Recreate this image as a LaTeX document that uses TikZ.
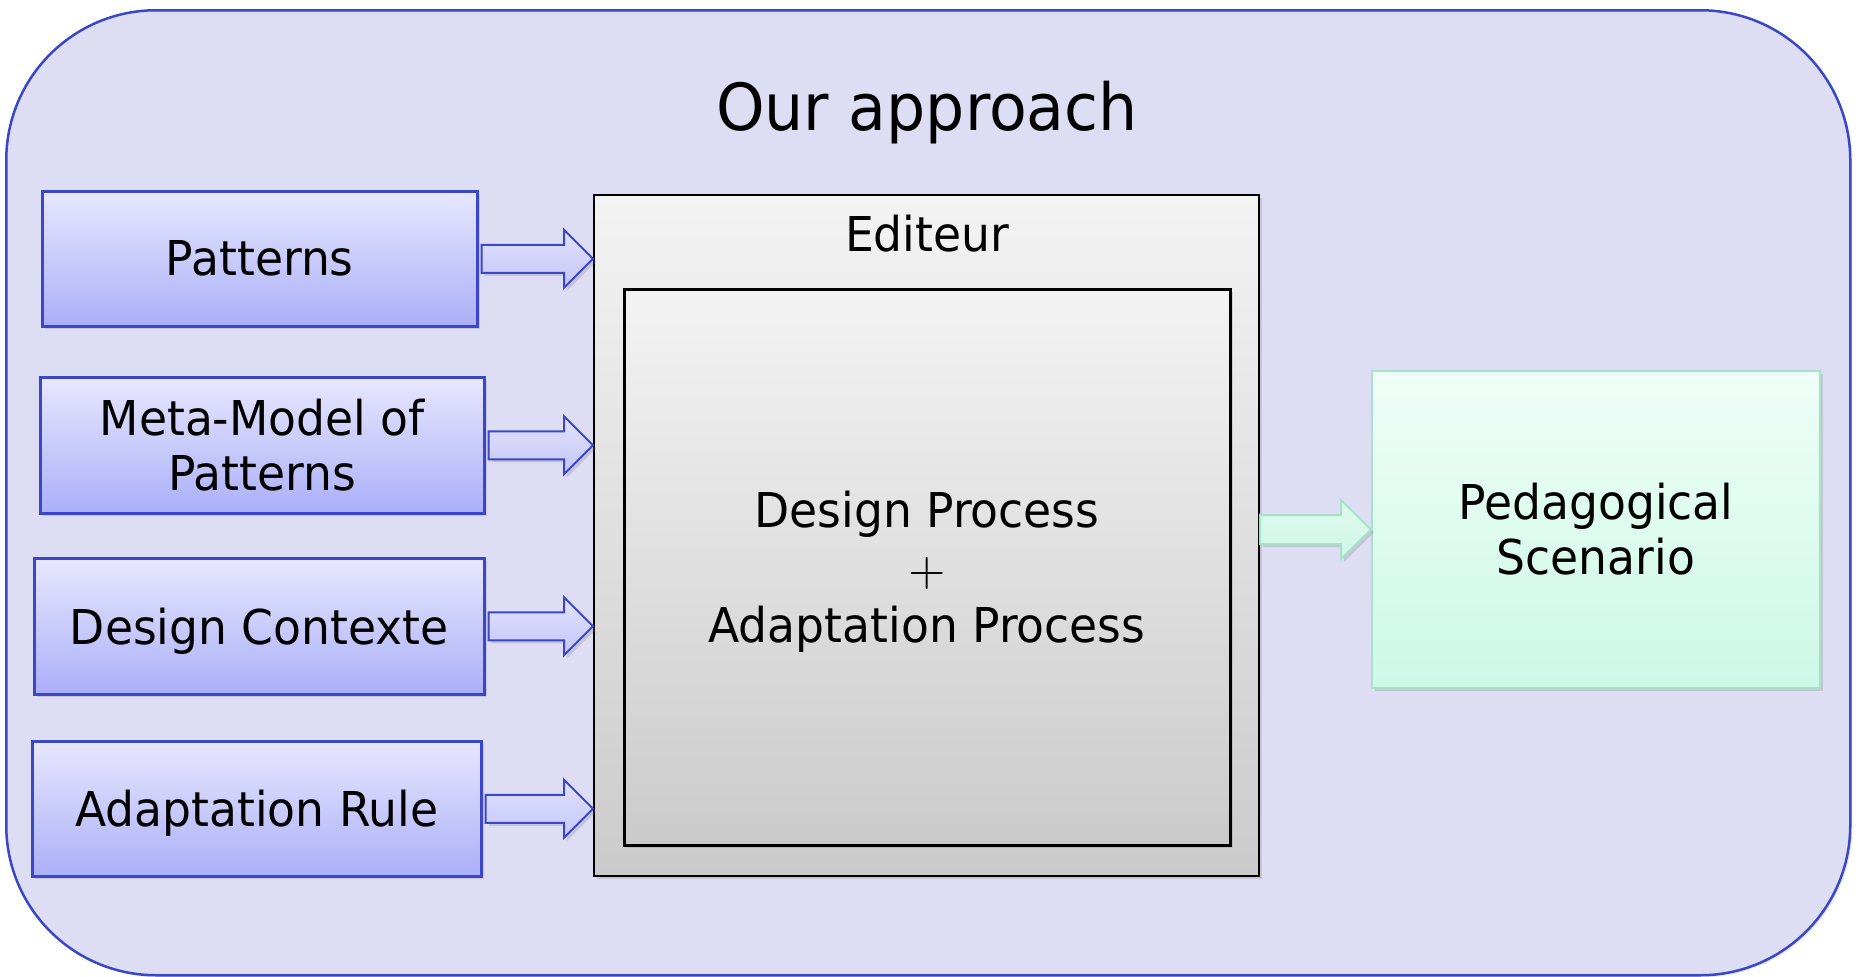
\documentclass[tikz,border=0pt]{standalone}
\usepackage{fontspec}
\setmainfont{DejaVu Sans}[FakeStretch=0.95]
\newfontfamily\lmfont{lmroman10-regular.otf}
\usetikzlibrary{calc,shadows}
\definecolor{bgfill}{HTML}{DDDDF4}
\definecolor{bgline}{HTML}{3A48C8}
\definecolor{bluetop}{HTML}{E7E7FD}
\definecolor{bluebot}{HTML}{ABAFF8}
\definecolor{blueline}{HTML}{3C46C8}
\definecolor{arrtop}{HTML}{E2E2FC}
\definecolor{arrbot}{HTML}{C4C6F8}
\definecolor{greytop}{HTML}{F3F3F3}
\definecolor{greybot}{HTML}{CBCBCB}
\definecolor{greentop}{HTML}{EFFEF8}
\definecolor{greenbot}{HTML}{CCF8E6}
\definecolor{greenline}{HTML}{A8E2CA}
\definecolor{greenarrtop}{HTML}{E0FAF0}
\definecolor{greenarrbot}{HTML}{CFF6E6}
\newcommand\boxfont{\fontsize{48}{55}\selectfont}
\newcommand\procfont{\fontsize{48}{57.5}\selectfont}
\newcommand\titlefont{\fontsize{65}{76}\selectfont}
\begin{document}
\begin{tikzpicture}[x=1pt,y=-1pt,
  shadowed/.style={drop shadow={opacity=0.25,shadow xshift=3pt,shadow yshift=-3pt}},
  inbox/.style={draw=blueline,line width=2.5pt,top color=bluetop,bottom color=bluebot,
    anchor=north west,inner sep=0pt,align=center,font=\boxfont,shadowed},
  greybox/.style={draw=black,top color=greytop,bottom color=greybot,
    anchor=north west,inner sep=0pt,shadowed},
  bluearrow/.style={draw=blueline,line width=2pt,line join=miter,
    top color=arrtop,bottom color=arrbot,shadowed,
    to path={let \p1=(\tikztostart), \p2=(\tikztotarget) in
      (\x1+3pt,\y1+14pt) -- (\x2-29pt,\y1+14pt) -- (\x2-29pt,\y1+29pt) -- (\x2,\y1)
      -- (\x2-29pt,\y1-29pt) -- (\x2-29pt,\y1-14pt) -- (\x1+3pt,\y1-14pt) -- cycle}},
  greenarrow/.style={draw=greenline,line width=2pt,line join=miter,
    top color=greenarrtop,bottom color=greenarrbot,shadowed,
    to path={let \p1=(\tikztostart), \p2=(\tikztotarget) in
      (\x1,\y2+14.5pt) -- (\x2-30pt,\y2+14.5pt) -- (\x2-30pt,\y2+29.5pt) -- (\x2,\y2)
      -- (\x2-30pt,\y2-29.5pt) -- (\x2-30pt,\y2-14.5pt) -- (\x1,\y2-14.5pt) -- cycle}}
]
\useasboundingbox (0,0) rectangle (1858,977);
% outer frame
\node[draw=bgline,line width=2.5pt,fill=bgfill,rounded corners=150pt,anchor=north west,
  minimum width=1844pt,minimum height=965pt,inner sep=0pt,
  drop shadow={opacity=0.2,shadow xshift=2pt,shadow yshift=-2pt}] (outer) at (5,9) {};
\node[font=\titlefont,anchor=base] (title) at (927,130) {Our approach};
% input boxes
\node[inbox,minimum width=435pt,minimum height=135pt] (pat) at (41,190) {Patterns};
\node[inbox,minimum width=444pt,minimum height=136pt] (meta) at (39,376) {Meta-Model of\\Patterns};
\node[inbox,text depth=0pt,minimum width=450pt,minimum height=136pt] (ctx) at (33,557) {Design Contexte};
\node[inbox,text depth=0pt,minimum width=449pt,minimum height=135pt] (rule) at (31,740) {Adaptation Rule};
% editor
\node[greybox,line width=2pt,minimum width=665pt,minimum height=681pt] (edit) at (593,194) {};
\node[font=\boxfont,anchor=base] (edittxt) at (927,251) {Editeur};
\node[greybox,line width=2.5pt,minimum width=606pt,minimum height=556pt] (inner) at (623,288) {};
\node[font=\procfont,align=center,inner sep=0pt] (proc) at (927,572)
  {Design Process\\{\lmfont +}\\Adaptation Process};
% output
\node[draw=greenline,line width=2pt,top color=greentop,bottom color=greenbot,
  anchor=north west,inner sep=0pt,align=center,font=\boxfont,shadowed,
  minimum width=448pt,minimum height=317pt] (ped) at (1371,370) {Pedagogical\\Scenario};
% arrows
\draw[bluearrow] (pat.east) to (edit.west);
\draw[bluearrow] (meta.east) to (edit.west);
\draw[bluearrow] (ctx.east) to (edit.west);
\draw[bluearrow] (rule.east) to (edit.west);
\draw[greenarrow] (edit.east) to (ped.west);
\end{tikzpicture}
\end{document}
